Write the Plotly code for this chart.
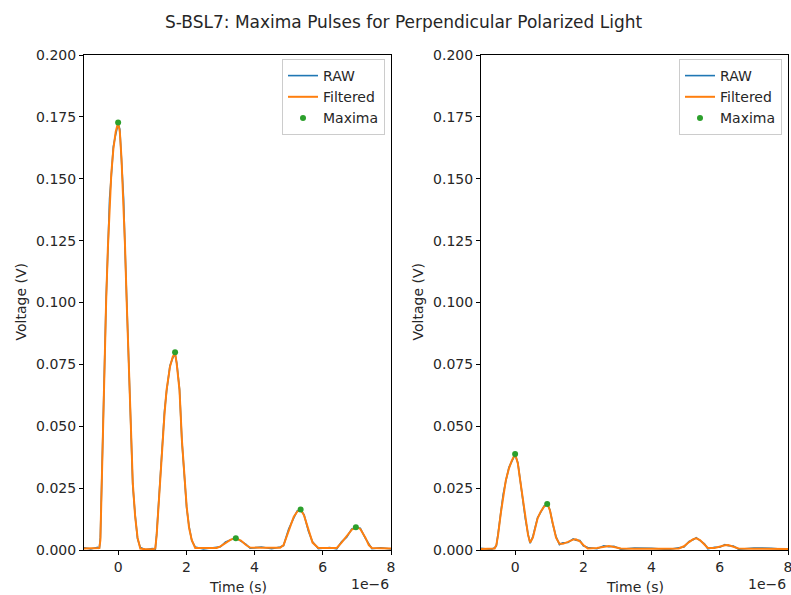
import plotly.graph_objects as go

# ---------------- data (time in microseconds, voltage in volts) ----------------
left_t_us = [-1.0, -0.8, -0.6, -0.55, -0.52, -0.48, -0.45, -0.40, -0.35, -0.30, -0.25, -0.20, -0.14, -0.07,
             0.0, 0.05, 0.10, 0.16, 0.20, 0.25, 0.30, 0.37, 0.43, 0.50, 0.57, 0.65, 0.80, 1.00,
             1.09, 1.13, 1.18, 1.24, 1.31, 1.36, 1.42, 1.52, 1.60, 1.67, 1.72, 1.76, 1.80, 1.87, 1.94,
             2.01, 2.08, 2.16, 2.26, 2.50, 2.89, 3.00, 3.15, 3.30, 3.45, 3.60, 3.75, 3.87, 4.20, 4.50,
             4.75, 4.85, 5.00, 5.15, 5.25, 5.35, 5.45, 5.58, 5.70, 5.87, 6.20, 6.41, 6.55, 6.70, 6.85,
             6.99, 7.10, 7.25, 7.35, 7.44, 7.70, 8.00]
left_filtered = [0.0006, 0.0006, 0.0006, 0.0008, 0.004, 0.030, 0.050, 0.078, 0.101, 0.122, 0.141, 0.152, 0.162, 0.169,
                 0.1727, 0.169, 0.158, 0.141, 0.124, 0.101, 0.078, 0.047, 0.027, 0.0135, 0.005, 0.0006, 0.0003, 0.0003,
                 0.0006, 0.006, 0.0175, 0.031, 0.0444, 0.055, 0.0646, 0.074, 0.078, 0.0797, 0.075, 0.069, 0.0646, 0.0444, 0.030,
                 0.0175, 0.009, 0.004, 0.0008, 0.0007, 0.0008, 0.0015, 0.003, 0.0042, 0.0047, 0.0038, 0.002, 0.001, 0.0009, 0.0008,
                 0.0009, 0.002, 0.008, 0.0135, 0.0155, 0.0164, 0.014, 0.008, 0.003, 0.0008, 0.0007, 0.0008, 0.003, 0.0055, 0.0082,
                 0.0092, 0.0085, 0.005, 0.002, 0.0008, 0.0006, 0.0006]
left_raw = [0.0009, 0.0004, 0.0011, 0.0006, 0.005, 0.029, 0.051, 0.077, 0.102, 0.121, 0.142, 0.151, 0.163, 0.168,
            0.1722, 0.170, 0.157, 0.142, 0.123, 0.102, 0.077, 0.048, 0.026, 0.0140, 0.0045, 0.0010, 0.0001, 0.0006,
            0.0004, 0.0065, 0.0170, 0.032, 0.0440, 0.056, 0.0640, 0.0745, 0.0775, 0.0792, 0.0755, 0.0685, 0.0650, 0.0440, 0.031,
            0.0170, 0.0095, 0.0038, 0.0012, 0.0004, 0.0011, 0.0013, 0.0033, 0.0040, 0.0049, 0.0036, 0.0023, 0.0007, 0.0012, 0.0005,
            0.0012, 0.0018, 0.0085, 0.0130, 0.0158, 0.0162, 0.0143, 0.0076, 0.0033, 0.0005, 0.0010, 0.0005, 0.0033, 0.0052, 0.0085,
            0.0090, 0.0088, 0.0047, 0.0023, 0.0005, 0.0009, 0.0004]
left_max_t_us = [0.0, 1.67, 3.45, 5.35, 6.97]
left_max_v = [0.1727, 0.0799, 0.0047, 0.0164, 0.0092]

right_t_us = [-1.0, -0.7, -0.6, -0.55, -0.50, -0.42, -0.35, -0.27, -0.18, -0.10, 0.0, 0.08, 0.15, 0.22, 0.30, 0.38,
              0.44, 0.52, 0.60, 0.66, 0.75, 0.85, 0.95, 1.02, 1.10, 1.20, 1.30, 1.40, 1.55, 1.70, 1.78, 1.90, 2.00,
              2.13, 2.40, 2.60, 2.75, 2.90, 3.10, 3.50, 4.00, 4.50, 4.80, 4.95, 5.10, 5.22, 5.31, 5.42, 5.55, 5.65,
              5.85, 6.00, 6.15, 6.25, 6.40, 6.55, 7.00, 7.50, 8.00]
right_filtered = [0.0004, 0.0004, 0.0006, 0.002, 0.006, 0.0148, 0.022, 0.0283, 0.033, 0.036, 0.0388, 0.035, 0.028, 0.0215, 0.013, 0.006,
                  0.003, 0.005, 0.0095, 0.0128, 0.0155, 0.0175, 0.0186, 0.016, 0.011, 0.005, 0.0025, 0.0025, 0.0033, 0.0042, 0.0043, 0.0035, 0.002,
                  0.0006, 0.0008, 0.0014, 0.0016, 0.0012, 0.0006, 0.0005, 0.0004, 0.0005, 0.0006, 0.0015, 0.0032, 0.0044, 0.0047, 0.004, 0.0022, 0.0008,
                  0.0008, 0.0014, 0.0019, 0.002, 0.0013, 0.0006, 0.0005, 0.0004, 0.0004]
right_raw = [0.0007, 0.0002, 0.0009, 0.0017, 0.0065, 0.0145, 0.0225, 0.0280, 0.0334, 0.0357, 0.0385, 0.0353, 0.0277, 0.0218, 0.0127, 0.0064,
             0.0027, 0.0054, 0.0092, 0.0131, 0.0152, 0.0178, 0.0183, 0.0163, 0.0107, 0.0054, 0.0022, 0.0029, 0.0030, 0.0045, 0.0040, 0.0038, 0.0017,
             0.0010, 0.0005, 0.0017, 0.0013, 0.0015, 0.0003, 0.0008, 0.0007, 0.0002, 0.0009, 0.0012, 0.0035, 0.0041, 0.0050, 0.0037, 0.0025, 0.0005,
             0.0011, 0.0011, 0.0022, 0.0017, 0.0016, 0.0003, 0.0008, 0.0007, 0.0002]
right_max_t_us = [0.0, 0.94]
right_max_v = [0.0388, 0.0186]

title_text = "S-BSL7: Maxima Pulses for Perpendicular Polarized Light"
x_tick_vals_us = [0, 2, 4, 6, 8]
y_tick_vals = [0.0, 0.025, 0.05, 0.075, 0.1, 0.125, 0.15, 0.175, 0.2]

# ---------------- figure ----------------
W, H = 791, 595
FONT = "DejaVu Sans"
BLUE, ORANGE, GREEN = "#1f77b4", "#ff7f0e", "#2ca02c"

def sec(lst):
    return [v * 1e-6 for v in lst]

fig = go.Figure()

panels = [
    ("x", "y", "legend", left_t_us, left_raw, left_filtered, left_max_t_us, left_max_v),
    ("x2", "y2", "legend2", right_t_us, right_raw, right_filtered, right_max_t_us, right_max_v),
]
for xa, ya, lg, t, raw, filt, mt, mv in panels:
    fig.add_trace(go.Scatter(x=sec(t), y=raw, mode="lines", name="RAW", xaxis=xa, yaxis=ya,
                             line=dict(color=BLUE, width=1.6), legend=lg))
    fig.add_trace(go.Scatter(x=sec(t), y=filt, mode="lines", name="Filtered", xaxis=xa, yaxis=ya,
                             line=dict(color=ORANGE, width=2), legend=lg))
    fig.add_trace(go.Scatter(x=sec(mt), y=mv, mode="markers", name="Maxima", xaxis=xa, yaxis=ya,
                             marker=dict(color=GREEN, size=6), legend=lg))

def px_x(p):
    return p / W

def px_y(p):
    return 1 - p / H

xdom1 = [px_x(84), px_x(391)]
xdom2 = [px_x(481), px_x(788)]
ydom = [px_y(550), px_y(55)]

axis_common = dict(showline=True, linecolor="black", linewidth=1, mirror=True, ticks="outside",
                   ticklen=4, tickwidth=1, tickcolor="black", showgrid=False, zeroline=False,
                   automargin=False, ticklabeloverflow="allow",
                   tickfont=dict(family=FONT, size=14, color="#262626"))

xaxis_cfg = dict(axis_common, range=[-1e-6, 8e-6], tickvals=sec(x_tick_vals_us),
                 ticktext=[str(v) for v in x_tick_vals_us])
yaxis_cfg = dict(axis_common, range=[0, 0.2], tickvals=y_tick_vals,
                 ticktext=["%.3f" % v for v in y_tick_vals])

legend_cfg = dict(bgcolor="rgba(255,255,255,0.8)", bordercolor="#cccccc", borderwidth=1,
                  font=dict(family=FONT, size=14, color="#262626"), xanchor="right", yanchor="top",
                  tracegroupgap=0, itemwidth=30)

fig.update_layout(
    width=W, height=H, margin=dict(l=0, r=0, t=0, b=0, autoexpand=False),
    paper_bgcolor="white", plot_bgcolor="white",
    font=dict(family=FONT, size=14, color="#262626"),
    xaxis=dict(xaxis_cfg, domain=xdom1, anchor="y"),
    yaxis=dict(yaxis_cfg, domain=ydom, anchor="x"),
    xaxis2=dict(xaxis_cfg, domain=xdom2, anchor="y2"),
    yaxis2=dict(yaxis_cfg, domain=ydom, anchor="x2"),
    legend=dict(legend_cfg, x=px_x(385), y=px_y(59)),
    legend2=dict(legend_cfg, x=px_x(782), y=px_y(59)),
    showlegend=True,
)

annots = [
    dict(text=title_text, x=px_x(403), y=px_y(22), fs=17),
    dict(text="Time (s)", x=(xdom1[0] + xdom1[1]) / 2, y=px_y(587), fs=14),
    dict(text="Time (s)", x=(xdom2[0] + xdom2[1]) / 2, y=px_y(587), fs=14),
    dict(text="Voltage (V)", x=px_x(20), y=(ydom[0] + ydom[1]) / 2, textangle=-90, fs=14),
    dict(text="Voltage (V)", x=px_x(417), y=(ydom[0] + ydom[1]) / 2, textangle=-90, fs=14),
    dict(text="1e\u22126", x=px_x(391), y=px_y(584), xanchor="right", fs=14),
    dict(text="1e\u22126", x=px_x(788), y=px_y(584), xanchor="right", fs=14),
]
for a in annots:
    a.setdefault("xanchor", "center")
    fs = a.pop("fs")
    fig.add_annotation(xref="paper", yref="paper", showarrow=False, yanchor="middle",
                       font=dict(family=FONT, size=fs, color="#262626"), **a)

# Remove the default page margin so the 791x595 figure fills the window exactly.
fig.write_html("out.html", config={"displayModeBar": False},
               post_script="document.body.style.margin='0';document.documentElement.style.overflow='hidden';")
